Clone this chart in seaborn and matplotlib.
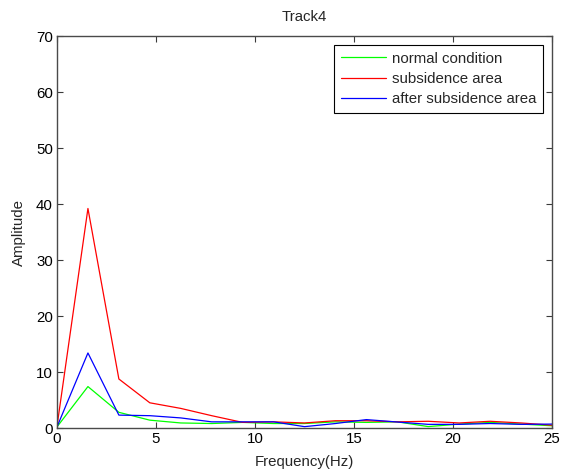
import numpy as np
import pandas as pd
import matplotlib
matplotlib.use("Agg")
import matplotlib.pyplot as plt
import seaborn as sns

freq = [0, 1.5625, 3.125, 4.6875, 6.25, 7.8125, 9.375, 10.9375, 12.5, 14.0625,
        15.625, 17.1875, 18.75, 20.3125, 21.875, 23.4375, 25]
normal = [0.2, 7.4, 2.8, 1.4, 0.9, 0.8, 1.0, 0.8, 0.8, 1.1, 1.0, 1.1, 0.25, 0.7, 1.0, 0.7, 0.4]
subsidence = [0.3, 39.2, 8.75, 4.5, 3.5, 2.2, 1.0, 1.1, 0.9, 1.3, 1.3, 1.1, 1.2, 0.9, 1.2, 0.9, 0.5]
after = [0.2, 13.4, 2.3, 2.2, 1.8, 1.1, 1.1, 1.1, 0.24, 0.8, 1.5, 1.07, 0.65, 0.65, 0.8, 0.65, 0.7]

labels = ["normal condition", "subsidence area", "after subsidence area"]
colors = ["#00ff00", "#ff0000", "#0000ff"]

df = pd.concat([
    pd.DataFrame({"Frequency": freq, "Amplitude": normal, "series": labels[0]}),
    pd.DataFrame({"Frequency": freq, "Amplitude": subsidence, "series": labels[1]}),
    pd.DataFrame({"Frequency": freq, "Amplitude": after, "series": labels[2]}),
])

sns.set_theme(style="white")
plt.rcParams['font.family'] = ['Liberation Sans', 'DejaVu Sans']

FS = 10.8
fig = plt.figure(figsize=(5.61, 4.69), dpi=100)
ax = fig.add_axes([57/561, 41/469, 495/561, 392/469])
sns.lineplot(data=df, x="Frequency", y="Amplitude", hue="series",
             palette=dict(zip(labels, colors)), linewidth=0.9, ax=ax, sort=False)

ax.set_xlim(0, 25)
ax.set_ylim(0, 70)
ax.set_xticks([0, 5, 10, 15, 20, 25])
ax.set_yticks(range(0, 71, 10))
ax.tick_params(direction="in", length=4.5, width=0.8, labelsize=FS, colors="#3a3a3a",
               labelcolor="black", top=True, right=True, bottom=True, left=True, pad=3)
for s in ax.spines.values():
    s.set_color("#4a4a4a")
    s.set_linewidth(1.0)
ax.set_xlabel("Frequency(Hz)", fontsize=FS, labelpad=6)
ax.set_ylabel("Amplitude", fontsize=FS, labelpad=7)
ax.set_title("Track4", fontsize=FS, pad=11)

leg = ax.legend(loc="upper right", fontsize=FS, frameon=True, fancybox=False,
                edgecolor="black", framealpha=1, borderaxespad=0.6,
                handlelength=3.0, handletextpad=0.4, labelspacing=0.42, borderpad=0.45)
leg.get_frame().set_linewidth(0.8)

fig.savefig("out.png", dpi=100, facecolor="white")
